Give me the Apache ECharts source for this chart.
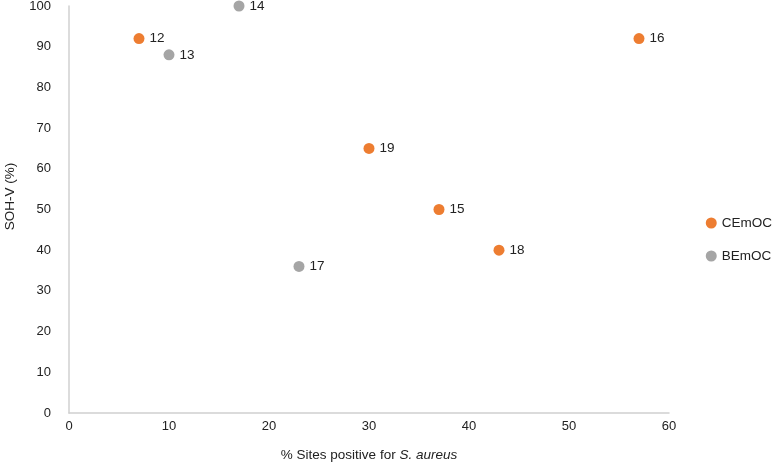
<!DOCTYPE html>
<html><head><meta charset="utf-8">
<script src="https://cdn.jsdelivr.net/npm/echarts@6/dist/echarts.min.js"></script>
<style>html,body{margin:0;padding:0;background:#fff}#c{width:780px;height:466px}</style>
</head><body><div id="c"></div>
<script>
const seriesNames = ['CEmOC', 'BEmOC'];
const cemocX = [7, 57, 30, 37, 43];
const cemocY = [92, 92, 65, 50, 40];
const cemocLabels = ['12', '16', '19', '15', '18'];
const bemocX = [10, 17, 23];
const bemocY = [88, 100, 36];
const bemocLabels = ['13', '14', '17'];
const xTicks = [0, 10, 20, 30, 40, 50, 60];
const yTicks = [0, 10, 20, 30, 40, 50, 60, 70, 80, 90, 100];

const FONT = '"Liberation Sans", Arial, Helvetica, sans-serif';
function pts(xs, ys, ls) { return xs.map((x, i) => ({ value: [x, ys[i]], name: ls[i] })); }

const chart = echarts.init(document.getElementById('c'), null, { renderer: 'canvas' });
chart.setOption({
  animation: false,
  textStyle: { fontFamily: FONT },
  grid: { left: 69, right: 111, top: 6, bottom: 53, containLabel: false, outerBoundsMode: 'none' },
  legend: {
    orient: 'vertical', right: 3, top: 211,
    data: seriesNames, icon: 'circle', itemWidth: 11, itemHeight: 11, itemGap: 19,
    textStyle: { fontFamily: FONT, fontSize: 13.5, color: '#222' }
  },
  xAxis: {
    type: 'value', min: xTicks[0], max: xTicks[xTicks.length - 1], interval: 10,
    axisLine: { show: true, lineStyle: { color: '#d0d0d0', width: 1.5 } },
    axisTick: { show: false }, splitLine: { show: false },
    axisLabel: { color: '#222', fontSize: 13, fontFamily: FONT, margin: 7 },
    name: '{n|% Sites positive for }{i|S. aureus}', nameLocation: 'middle', nameGap: 35,
    nameTextStyle: { rich: { n: { fontSize: 13.5, color: '#222', fontFamily: FONT }, i: { fontSize: 13.5, color: '#222', fontStyle: 'italic', fontFamily: FONT } } }
  },
  yAxis: {
    type: 'value', min: yTicks[0], max: yTicks[yTicks.length - 1], interval: 10,
    axisLine: { show: true, lineStyle: { color: '#d0d0d0', width: 1.5 } },
    axisTick: { show: false }, splitLine: { show: false },
    axisLabel: { color: '#222', fontSize: 13, fontFamily: FONT, margin: 18 },
    name: 'SOH-V (%)', nameLocation: 'middle', nameGap: 52, nameRotate: 90,
    nameTextStyle: { fontSize: 13.5, color: '#222', fontFamily: FONT, padding: [0, 0, 0, 26] }
  },
  series: [
    { name: seriesNames[0], type: 'scatter', symbolSize: 11, itemStyle: { color: '#ED7D31', opacity: 1 },
      data: pts(cemocX, cemocY, cemocLabels),
      label: { show: true, position: 'right', distance: 5, formatter: p => p.name, color: '#222', fontSize: 13.5, fontFamily: FONT } },
    { name: seriesNames[1], type: 'scatter', symbolSize: 11, itemStyle: { color: '#A5A5A5', opacity: 1 },
      data: pts(bemocX, bemocY, bemocLabels),
      label: { show: true, position: 'right', distance: 5, formatter: p => p.name, color: '#222', fontSize: 13.5, fontFamily: FONT } }
  ]
});
</script></body></html>
